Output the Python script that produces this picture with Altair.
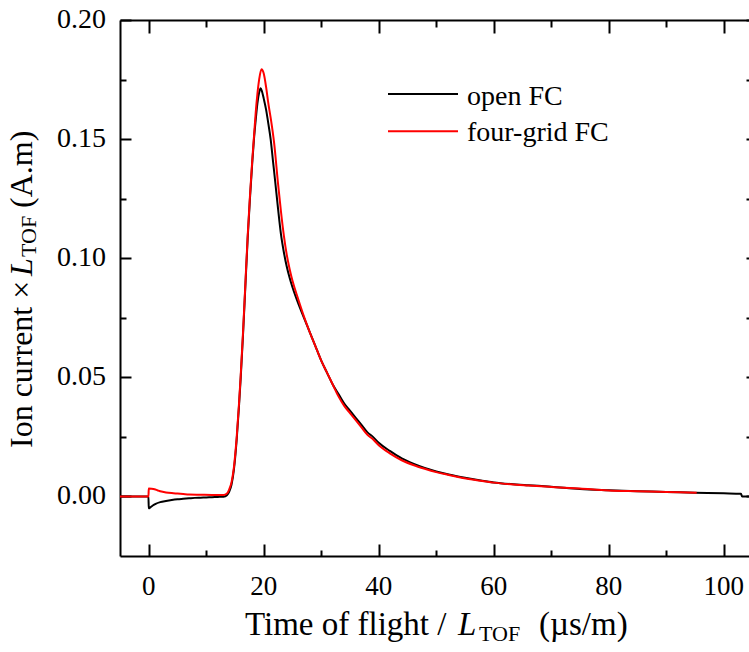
import altair as alt
import pandas as pd

# ---------------- data ----------------
series_names = ["open FC", "four-grid FC"]
series_colors = ["#000000", "#ff0000"]

t_open = [-5, -0.05, 0, 0.3, 0.7, 1.2, 2, 3, 4, 5, 6, 7, 8, 9, 10, 11, 12, 13,
          13.6, 14.0, 14.4, 14.8, 15.3, 15.7, 16.0, 16.4, 16.8, 17.2,
          17.6, 18.0, 18.3, 18.6, 18.9, 19.2, 19.45, 19.7, 20.0, 20.4,
          20.8, 21.2, 21.6, 22.0, 22.5, 23.0, 23.5, 24, 24.5,
          25, 26, 27, 28, 29, 30, 31, 32, 33, 34, 35, 36, 37, 38, 39, 40,
          42, 44, 46, 48, 50, 52, 54, 56, 58, 60,
          63, 66, 70, 75, 80, 85, 90, 95, 100, 103, 103.2, 104.4]
v_open = [0, 0, -0.005, -0.0045, -0.0038, -0.0031, -0.0024, -0.0019, -0.0015, -0.0012,
          -0.0010, -0.0008, -0.0006, -0.0005, -0.0004, -0.0003, -0.0002, -0.0001,
          0.0005, 0.002, 0.005, 0.011, 0.024, 0.038, 0.050, 0.068, 0.088, 0.108,
          0.125, 0.140, 0.150, 0.158, 0.165, 0.1695, 0.1714, 0.170, 0.167, 0.1625,
          0.1565, 0.150, 0.141, 0.132, 0.1205, 0.110, 0.1025, 0.0965, 0.0918,
          0.0878, 0.081, 0.075, 0.069, 0.063, 0.057, 0.052, 0.047, 0.043, 0.039,
          0.036, 0.033, 0.030, 0.027, 0.025, 0.0225,
          0.019, 0.016, 0.0138, 0.0120, 0.0105, 0.0093, 0.0083, 0.0074, 0.0066, 0.0059,
          0.0052, 0.0047, 0.0041, 0.0031, 0.0026, 0.0022, 0.0019, 0.0016, 0.0013, 0.0011,
          0.0, 0.0]

t_grid = [-5, -0.05, 0, 0.5, 1.0, 1.5, 2, 3, 4, 5, 6, 7, 9, 11, 13,
          13.6, 14.0, 14.4, 14.8, 15.3, 15.7, 16.0, 16.4, 16.8, 17.2,
          17.6, 18.0, 18.3, 18.6, 18.9, 19.2, 19.6, 20.0, 20.4, 20.8,
          21.2, 21.8, 22.5, 23.0, 23.5, 24, 24.5,
          25, 26, 27, 28, 29, 30, 31, 32, 33, 34, 35, 36, 37, 38, 39, 40,
          42, 44, 46, 48, 50, 52, 54, 56, 58, 60,
          63, 66, 70, 75, 80, 85, 90, 95.3]
v_grid = [0, 0, 0.0033, 0.0032, 0.0030, 0.0026, 0.0022, 0.0017, 0.0014, 0.0012,
          0.0010, 0.0008, 0.0007, 0.0006, 0.0006,
          0.0012, 0.003, 0.006, 0.012, 0.025, 0.039, 0.051, 0.069, 0.089, 0.109,
          0.126, 0.141, 0.151, 0.161, 0.169, 0.175, 0.1793, 0.1775, 0.172, 0.165,
          0.159, 0.1485, 0.131, 0.1195, 0.1095, 0.1015, 0.0955,
          0.0905, 0.0828, 0.0755, 0.069, 0.063, 0.057, 0.052, 0.047, 0.042, 0.038,
          0.035, 0.032, 0.029, 0.026, 0.024, 0.0215,
          0.018, 0.0152, 0.0132, 0.0116, 0.0102, 0.0091, 0.0081, 0.0072, 0.0065, 0.0058,
          0.0051, 0.0046, 0.0040, 0.0033, 0.0025, 0.0022, 0.0019, 0.0016]

x_major = [0, 20, 40, 60, 80, 100]
x_minor = [10, 30, 50, 70, 90]
y_major = [0.0, 0.05, 0.10, 0.15, 0.20]
y_minor = [0.025, 0.075, 0.125, 0.175]
x_labels = [str(v) for v in x_major]
y_labels = ["%.2f" % v for v in y_major]
x_domain = [-5, 104.4]
y_domain = [-0.025, 0.2]

df = pd.DataFrame({
    "t": t_open + t_grid,
    "v": v_open + v_grid,
    "series": [series_names[0]] * len(t_open) + [series_names[1]] * len(t_grid),
})
anchor = pd.DataFrame({"t": [0.0], "v": [0.0]})
xlab_df = pd.DataFrame({"t": x_major, "lab": x_labels})
ylab_df = pd.DataFrame({"v": y_major, "lab": y_labels})

FONT = "Liberation Serif"
W, H = 629, 536
TICK_FS = 27

xs = alt.Scale(domain=x_domain, nice=False, zero=False)
ys = alt.Scale(domain=y_domain, nice=False, zero=False)


def xenc(axis):
    return alt.X("t:Q", scale=xs, axis=axis)


def yenc(axis):
    return alt.Y("v:Q", scale=ys, axis=axis)


def tick_axis(orient, values, size):
    return alt.Axis(orient=orient, values=values, ticks=True, tickSize=size, tickWidth=2,
                    tickColor="black", offset=-size, domain=False, labels=False,
                    grid=False, title=None)


def spine(orient):
    return alt.Axis(orient=orient, domain=True, domainColor="black", domainWidth=2,
                    ticks=False, labels=False, grid=False, title=None)


lines = alt.Chart(df).mark_line(strokeWidth=2, interpolate="monotone").encode(
    x=xenc(spine("bottom")),
    y=yenc(spine("left")),
    color=alt.Color("series:N",
                    scale=alt.Scale(domain=series_names, range=series_colors),
                    legend=None),
)

inv = alt.Chart(anchor).mark_point(opacity=0)
l_major = inv.encode(x=xenc(tick_axis("bottom", x_major, 12)),
                     y=yenc(tick_axis("left", y_major, 11)))
l_minor = inv.encode(x=xenc(tick_axis("bottom", x_minor, 6)),
                     y=yenc(tick_axis("left", y_minor, 6)))
l_top = inv.encode(x=xenc(spine("top")),
                   y=yenc(tick_axis("right", y_major + y_minor, 3)))
l_top_major = inv.encode(x=xenc(tick_axis("top", x_major, 13)), y=yenc(None))
l_top_minor = inv.encode(x=xenc(tick_axis("top", x_minor, 7)), y=yenc(None))

# tick labels (serif), positioned through the shared scales
x_ticklabels = alt.Chart(xlab_df).mark_text(
    font=FONT, fontSize=TICK_FS, align="center", baseline="alphabetic", color="black"
).encode(x=xenc(None), y=alt.value(H + 39), text="lab:N")
y_ticklabels = alt.Chart(ylab_df).mark_text(
    font=FONT, fontSize=28, align="right", baseline="middle", color="black"
).encode(y=yenc(None), x=alt.value(-14), text="lab:N")


def txt(s, x, y, size=33, italic=False, angle=0, color="black"):
    return alt.Chart(anchor).mark_text(
        text=s, font=FONT, fontSize=size, fontStyle="italic" if italic else "normal",
        align="left", baseline="alphabetic", angle=angle, color=color
    ).encode(x=alt.value(x), y=alt.value(y))


def legend_line(y, color):
    return alt.Chart(anchor).mark_rule(color=color, strokeWidth=2).encode(
        x=alt.value(268), x2=alt.value(338), y=alt.value(y))


legend = [
    legend_line(74, series_colors[0]),
    txt(series_names[0], 347, 84.7, size=28),
    legend_line(111.3, series_colors[1]),
    txt(series_names[1], 347, 121.3, size=28),
]

titles = [
    txt("Time of flight /", 125, 615),
    txt("L", 338, 615, italic=True),
    txt("TOF", 359, 621, size=22),
    txt("(\u00b5s/m)", 419, 615),
    txt("Ion current \u00d7", -88, 428, size=32, angle=270),
    txt("L", -88, 256, size=32, italic=True, angle=270),
    txt("TOF", -84, 237, size=22, angle=270),
    txt("(A.m)", -88, 188, size=32, angle=270),
]

chart = alt.layer(
    lines, l_major, l_minor, l_top, l_top_major, l_top_minor,
    x_ticklabels, y_ticklabels, *legend, *titles
).resolve_axis(
    x="independent", y="independent"
).properties(
    width=W, height=H,
    autosize=alt.AutoSizeParams(type="none"),
    padding={"left": 120, "top": 20, "right": 0, "bottom": 96},
).configure(
    font=FONT
).configure_view(strokeWidth=0)

chart.save("out.html", embed_options={"renderer": "svg", "actions": False})
